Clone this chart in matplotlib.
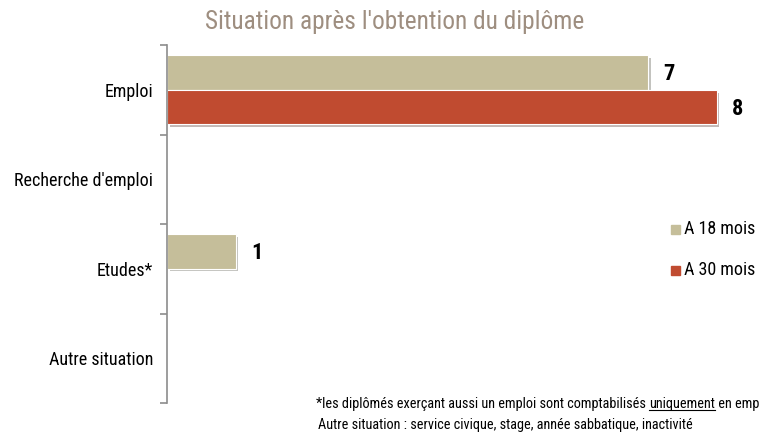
import matplotlib
matplotlib.use("Agg")
import matplotlib.pyplot as plt
import matplotlib.patheffects as pe
import numpy as np

categories = ["Emploi", "Recherche d'emploi", "Etudes*", "Autre situation"]
series_names = ["A 18 mois", "A 30 mois"]
values_18 = [7, 0, 1, 0]
values_30 = [8, 0, 0, 0]
title = "Situation après l'obtention du diplôme"
note1_parts = ["*les diplômés exerçant aussi un emploi sont comptabilisés ", "uniquement", " en emploi"]
note2 = "Autre situation : service civique, stage, année sabbatique, inactivité"

colors = ["#C5BE9A", "#C04B30"]
FONT = ["Roboto Condensed", "DejaVu Sans"]
BOLD = ["Roboto Condensed", "DejaVu Sans"]
plt.rcParams['font.family'] = FONT

W, H = 760, 433
fig = plt.figure(figsize=(W / 100, H / 100), dpi=100)
ax = fig.add_axes([167 / W, 1 - 403 / H, (W - 167) / W, (403 - 45) / H])

y = np.arange(len(categories))
h = 0.385
shadow = [pe.SimplePatchShadow(offset=(2, -2), alpha=0.3), pe.Normal()]
for vals, off, col in [(values_18, -0.195, colors[0]), (values_30, 0.195, colors[1])]:
    bars = ax.barh(y + off, vals, height=h, color=col, edgecolor="white", linewidth=0.8)
    for b, v in zip(bars, vals):
        if v > 0:
            b.set_path_effects(shadow)
            ax.annotate(str(v), (v, b.get_y() + b.get_height() / 2), xytext=(21, -2),
                        textcoords="offset pixels", ha="center", va="center",
                        fontsize=16, fontweight="bold", family=BOLD, color="black")

ax.set_xlim(0, (W - 167) / 68.7)
ax.set_ylim(3.5, -0.5)
ax.set_xticks([])
ax.set_yticks(np.arange(-0.5, 4, 1.0))
ax.set_yticklabels([])
ax.set_yticks(y, minor=True)
ax.set_yticklabels(categories, minor=True, fontsize=13)
ax.tick_params(axis="y", which="major", length=5, width=1.2, color="#8C8C8C", direction="out")
ax.tick_params(axis="y", which="minor", length=0, pad=10)
for s in ["top", "right", "bottom"]:
    ax.spines[s].set_visible(False)
ax.spines["left"].set_color("#8C8C8C")
ax.spines["left"].set_linewidth(1.2)
ax.patch.set_alpha(0)

fig.text(395 / W, 1 - 22 / H, title, ha="center", va="center", fontsize=18.3, color="#9E8E80")

# Legend
for i, (name, col) in enumerate(zip(series_names, colors)):
    yy = 1 - (229 + 41 * i) / H
    fig.patches.append(plt.Rectangle((671 / W, yy - 4.5 / H), 9 / W, 9 / H,
                                     transform=fig.transFigure, color=col))
    fig.text(684 / W, yy, name, ha="left", va="center", fontsize=13)

# Footnotes
fig.canvas.draw()
r = fig.canvas.get_renderer()
x = 316 / W
yf = 1 - 404 / H
for i, part in enumerate(note1_parts):
    t = fig.text(x, yf, part, ha="left", va="center", fontsize=10.3)
    bb = t.get_window_extent(r)
    if i == 1:
        fig.add_artist(plt.Line2D([bb.x0 / W, bb.x1 / W], [(bb.y0 + 1) / H] * 2,
                                  transform=fig.transFigure, color="black", linewidth=0.8))
    x = bb.x1 / W
fig.text(318 / W, 1 - 425 / H, note2, ha="left", va="center", fontsize=10.3)

fig.savefig("out.png", dpi=100)
